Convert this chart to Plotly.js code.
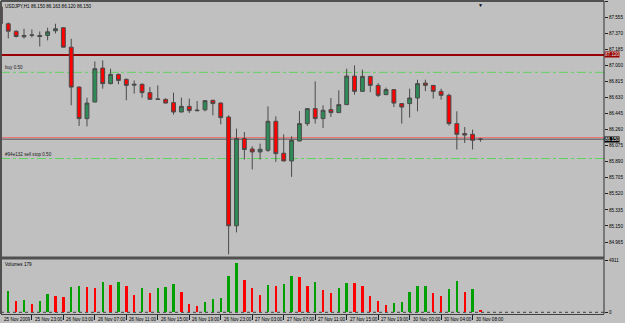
<!DOCTYPE html>
<html>
<head>
<meta charset="utf-8">
<script src="https://cdn.plot.ly/plotly-3.0.1.min.js"></script>
<style>
html,body{margin:0;padding:0;background:#c0c0c0;}
#chart{width:625px;height:323px;}
</style>
</head>
<body>
<div id="chart"></div>
<script>
// ---- data (USDJPY, H1) ----
const symbolTitle = "USDJPY,H1 86.150 86.163 86.120 86.150";
const openP  = [87.673,87.480,87.394,87.330,87.347,87.345,87.345,87.399,87.434,87.210,
                86.750,86.387,86.578,86.969,86.790,86.896,86.839,86.772,86.782,86.686,
                86.609,86.609,86.571,86.463,86.528,86.486,86.488,86.598,86.566,86.405,
                85.152,86.157,86.037,86.003,86.022,86.356,85.988,85.899,86.129,86.329,
                86.502,86.387,86.491,86.456,86.548,86.877,86.701,86.873,86.770,86.663,
                86.721,86.560,86.560,86.624,86.796,86.770,86.701,86.655,86.329,86.214,
                86.206,86.150];
const highP  = [87.700,87.495,87.403,87.422,87.414,87.391,87.434,87.480,87.437,87.307,
                86.758,86.628,87.046,87.058,86.962,86.908,86.850,86.827,86.793,86.750,
                86.770,86.620,86.686,86.628,86.617,86.589,86.598,86.603,86.575,86.425,
                86.272,86.233,86.068,86.099,86.528,86.413,86.206,86.183,86.474,86.505,
                86.816,86.540,86.624,86.712,86.962,87.000,86.951,86.879,86.796,86.744,
                86.724,86.563,86.732,86.835,86.835,86.770,86.732,86.675,86.471,86.290,
                86.260,86.163];
const lowP   = [87.471,87.310,87.322,87.310,87.322,87.218,87.288,87.368,87.207,86.540,
                86.302,86.298,86.575,86.732,86.782,86.782,86.598,86.675,86.628,86.603,
                86.603,86.563,86.433,86.460,86.451,86.471,86.471,86.425,86.321,84.823,
                85.076,85.916,85.801,85.916,86.003,85.888,85.896,85.716,86.126,86.302,
                86.329,86.279,86.405,86.454,86.546,86.663,86.695,86.693,86.635,86.661,
                86.520,86.329,86.398,86.471,86.704,86.617,86.605,86.306,86.031,86.106,
                86.031,86.120];
const closeP = [87.480,87.394,87.333,87.345,87.350,87.333,87.387,87.422,87.210,86.750,
                86.387,86.566,86.962,86.790,86.896,86.827,86.770,86.782,86.686,86.609,
                86.612,86.566,86.463,86.528,86.479,86.479,86.594,86.560,86.398,85.152,
                86.157,86.031,86.003,86.034,86.356,85.984,85.899,86.137,86.329,86.502,
                86.387,86.483,86.456,86.548,86.877,86.701,86.873,86.770,86.655,86.721,
                86.566,86.520,86.624,86.790,86.770,86.701,86.655,86.329,86.206,86.198,
                86.137,86.150];
const volumes = [1333,2028,1104,1171,819,1104,1742,1552,1428,2409,
                 2475,2409,2313,2885,2570,2913,2475,1618,2285,1809,
                 2285,2409,2666,1904,819,628,981,1295,1361,3484,
                 4693,3075,2285,1647,2570,2475,2666,3484,3361,2504,
                 2885,2152,1866,2285,2818,2789,2475,1552,1076,724,
                 914,981,1961,2475,2490,1866,1552,2247,2980,1933,
                 2218,179];
const timeLabels = ["25 Nov 2009","25 Nov 23:00","26 Nov 03:00","26 Nov 07:00","26 Nov 11:00",
                    "26 Nov 15:00","26 Nov 19:00","26 Nov 23:00","27 Nov 03:00","27 Nov 07:00",
                    "27 Nov 11:00","27 Nov 15:00","27 Nov 19:00","30 Nov 00:00","30 Nov 04:00",
                    "30 Nov 08:00"];
const priceTicks = [87.740,87.555,87.370,87.185,87.000,86.815,86.630,86.445,86.260,86.075,
                    85.890,85.705,85.520,85.335,85.150,84.965];
const volumeTicks = [4911, 0];
const stopLevel = 87.120;          // dark red line
const buyLevel = 86.920;           // "buy 0.50"
const sellStopLevel = 85.927;      // sell stop order
const bidPrice = 86.150;
const askPrice = 86.168;
const buyText = "buy 0.50";
const sellStopText = "#94e132 sell stop 0.50";
const volumesText = "Volumes 179";

// ---- build ----
const idx = openP.map((_, i) => i);
const labelEvery = 4;
const tickIdx = timeLabels.map((_, k) => k * labelEvery);
const volColors = volumes.map((v, i) => (i === 0 || v > volumes[i - 1]) ? '#00a000' : '#ff0000');
const xRange = [0.076, 76.7];
const xFrac = i => Math.max(0, (i - xRange[0]) / (xRange[1] - xRange[0]));

const FONT = 'Liberation Sans, Arial, sans-serif';
const FS = 4.6;
const GRIDC = '#505050';

const candles = {
  type: 'candlestick', x: idx, open: openP, high: highP, low: lowP, close: closeP,
  xaxis: 'x', yaxis: 'y',
  increasing: {line: {color: '#4a4a4a', width: 1}, fillcolor: '#2e8b57'},
  decreasing: {line: {color: '#4a4a4a', width: 1}, fillcolor: '#ff0000'},
  whiskerwidth: 0, hoverinfo: 'skip', showlegend: false
};
const volBars = {
  type: 'bar', x: idx, y: volumes, xaxis: 'x', yaxis: 'y2',
  marker: {color: volColors, line: {width: 0}}, width: 0.3,
  hoverinfo: 'skip', showlegend: false
};

const hline = (y, color, width, dash, yref) => ({
  type: 'line', xref: 'paper', x0: 0, x1: 1, yref: yref || 'y', y0: y, y1: y,
  line: {color: color, width: width, dash: dash || 'solid'}, layer: 'below'
});

const shapes = [
  hline(buyLevel, '#5fd35f', 1, 'dashdot'),
  hline(sellStopLevel, '#5fd35f', 1, 'dashdot'),
  hline(stopLevel, '#9a0000', 2),
  hline(askPrice, '#f07070', 1),
  hline(bidPrice, '#505050', 1),
  hline(0, '#404040', 1, 'dot', 'y2'),
  // frame
  {type:'line', xref:'paper', yref:'paper', x0:0, x1:1, y0:1, y1:1, line:{color:GRIDC, width:2}},
  {type:'line', xref:'paper', yref:'paper', x0:0, x1:0, y0:0, y1:1, line:{color:GRIDC, width:2}},
  {type:'line', xref:'paper', yref:'paper', x0:1, x1:1, y0:0, y1:1, line:{color:'#303030', width:1}},
  {type:'line', xref:'paper', yref:'paper', x0:0, x1:1, y0:0.179, y1:0.179, line:{color:GRIDC, width:3}}
];

const annotations = [
  {xref:'paper', yref:'paper', x:0.004, y:0.997, xanchor:'left', yanchor:'top', text:symbolTitle,
   showarrow:false, font:{family:FONT, size:FS, color:'#000'}},
  {xref:'paper', yref:'y', x:0.004, y:buyLevel, xanchor:'left', yanchor:'bottom', text:buyText,
   showarrow:false, font:{family:FONT, size:FS, color:'#202020'}},
  {xref:'paper', yref:'y', x:0.004, y:sellStopLevel, xanchor:'left', yanchor:'bottom', text:sellStopText,
   showarrow:false, font:{family:FONT, size:FS, color:'#202020'}},
  {xref:'paper', yref:'paper', x:0.004, y:0.172, xanchor:'left', yanchor:'top', text:volumesText,
   showarrow:false, font:{family:FONT, size:FS, color:'#000'}},
  {xref:'paper', yref:'y', x:1, y:stopLevel, xanchor:'left', yanchor:'middle', text:stopLevel.toFixed(3),
   showarrow:false, bgcolor:'#9a0000', borderpad:0, font:{family:FONT, size:FS, color:'#e0e0e0'}},
  {xref:'paper', yref:'y', x:1, y:bidPrice, xanchor:'left', yanchor:'middle', text:bidPrice.toFixed(3),
   showarrow:false, bgcolor:'#000000', borderpad:0, font:{family:FONT, size:FS, color:'#ffffff'}},
  {xref:'x', yref:'paper', x:idx[idx.length-1], y:1.004, xanchor:'center', yanchor:'top', text:'▼',
   showarrow:false, font:{family:FONT, size:5, color:'#000'}}
];
// time labels, left-aligned to their tick like the terminal does
timeLabels.forEach((t, k) => {
  annotations.push({xref:'paper', yref:'paper', x:xFrac(tickIdx[k]), y:0, xanchor:'left', yanchor:'top',
    xshift: 1, yshift: -1, text: t, showarrow:false, font:{family:FONT, size:FS, color:'#000'}});
});

const layout = {
  width: 625, height: 323,
  margin: {l: 1, r: 21, t: 1, b: 9, pad: 0},
  paper_bgcolor: '#c0c0c0', plot_bgcolor: '#c0c0c0',
  font: {family: FONT, size: FS, color: '#000'},
  showlegend: false, bargap: 0,
  xaxis: {
    anchor: 'y2', range: xRange, rangeslider: {visible: false},
    showgrid: false, zeroline: false, showline: true, linecolor: '#404040', linewidth: 1,
    tickmode: 'array', tickvals: tickIdx, showticklabels: false,
    ticks: 'outside', ticklen: 5, tickcolor: '#202020', tickwidth: 1
  },
  yaxis: {
    domain: [0.182, 1], range: [84.792, 87.742], side: 'right',
    showgrid: false, zeroline: false, showline: false,
    tickmode: 'array', tickvals: priceTicks, ticktext: priceTicks.map(v => v.toFixed(3)),
    ticks: 'outside', ticklen: 3, tickcolor: '#202020',
    tickfont: {family: FONT, size: FS, color: '#000'}
  },
  yaxis2: {
    domain: [0, 0.176], range: [-162, 5084], side: 'right', anchor: 'x',
    showgrid: false, zeroline: false, showline: false,
    tickmode: 'array', tickvals: volumeTicks, ticktext: volumeTicks.map(String),
    ticks: 'outside', ticklen: 3, tickcolor: '#202020',
    tickfont: {family: FONT, size: FS, color: '#000'}
  },
  shapes: shapes,
  annotations: annotations
};

Plotly.newPlot('chart', [volBars, candles], layout, {displayModeBar: false, staticPlot: true});
</script>
</body>
</html>
